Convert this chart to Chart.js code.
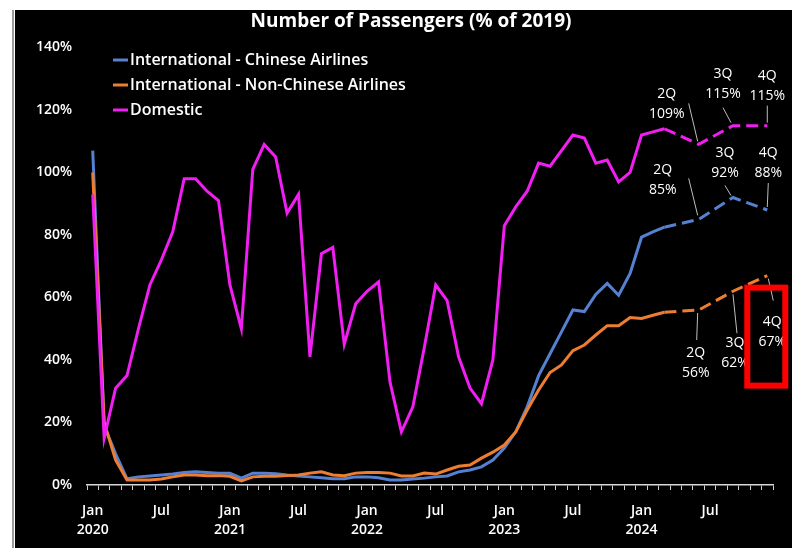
<!DOCTYPE html>
<html>
<head>
<meta charset="utf-8">
<script src="https://cdn.jsdelivr.net/npm/chart.js@4.4.1/dist/chart.umd.min.js"></script>
<style>
  html, body { margin: 0; padding: 0; background: #fff; }
  #wrap { width: 792px; height: 548px; position: relative; }
</style>
</head>
<body>
<div id="wrap"><canvas id="chart" width="792" height="548"></canvas></div>
<script>
// monthly categories, Jan 2020 .. Dec 2024
const months = [
  '2020-01','2020-02','2020-03','2020-04','2020-05','2020-06','2020-07','2020-08','2020-09','2020-10','2020-11','2020-12',
  '2021-01','2021-02','2021-03','2021-04','2021-05','2021-06','2021-07','2021-08','2021-09','2021-10','2021-11','2021-12',
  '2022-01','2022-02','2022-03','2022-04','2022-05','2022-06','2022-07','2022-08','2022-09','2022-10','2022-11','2022-12',
  '2023-01','2023-02','2023-03','2023-04','2023-05','2023-06','2023-07','2023-08','2023-09','2023-10','2023-11','2023-12',
  '2024-01','2024-02','2024-03','2024-04','2024-05','2024-06','2024-07','2024-08','2024-09','2024-10','2024-11','2024-12'
];

// % of 2019 levels (null = no monthly value, quarter-end estimates only)
const chinese = [
  107, 19, 10, 2, 2.6, 2.9, 3.2, 3.5, 4, 4.2, 4, 3.8,
  3.8, 2.2, 3.8, 3.8, 3.6, 3.2, 2.9, 2.6, 2.3, 2, 2, 2.6,
  2.6, 2.3, 1.6, 1.6, 1.9, 2.2, 2.6, 2.9, 4.2, 4.8, 5.8, 8,
  11.8, 17, 25, 35, 42, 49, 56, 55.5, 61, 64.5, 60.7, 67.7,
  79.3, 81, 82.5, null, null, 85, null, null, 92, null, null, 88
];
const nonChinese = [
  100, 20, 8, 1.6, 1.6, 1.6, 1.9, 2.6, 3.2, 3.2, 3, 3,
  2.8, 1.3, 2.6, 2.8, 2.8, 3, 3.2, 3.8, 4.2, 3.2, 3, 3.8,
  4, 4, 3.8, 2.9, 2.9, 3.8, 3.5, 4.8, 6, 6.4, 8.6, 10.5,
  12.8, 17, 24, 30.4, 36, 38.4, 43, 44.8, 48, 51, 51, 53.6,
  53.3, 54.3, 55.3, null, null, 56, null, null, 62, null, null, 67
];
const domestic = [
  93, 15, 31, 35, 50, 64, 72, 81, 98, 98, 94, 91,
  64, 50, 101, 109, 105, 87, 93, 41, 74, 76, 45, 58,
  62, 65, 33, 17, 25, 44, 64, 59, 41, 31, 26, 40,
  83, 89, 94, 103, 102, 107, 112, 111, 103, 104, 97, 100,
  112, 113, 114, null, null, 109, null, null, 115, null, null, 115
];

const seriesNames = ['International - Chinese Airlines', 'International - Non-Chinese Airlines', 'Domestic'];
const seriesColors = ['#5681D0', '#ED7D31', '#F01EF0'];
const chartTitle = 'Number of Passengers (% of 2019)';
const lastActual = 50;            // Mar 2024, dashed afterwards
const quarterTags = ['2Q', '3Q', '4Q'];
const quarterIdx = [53, 56, 59];
const yMin = 0, yMax = 140, yStep = 20;

const FONT = "'Open Sans', 'DejaVu Sans', sans-serif";

// label placement relative to the point: text centre + leader line
const annotLayout = [
  [{ tx: -36, ty: -39, l: [-10, -41, -1, -4] }, { tx: -8, ty: -34, l: [-8, -12, -2, -2] }, { tx: 1, ty: -47, l: [1, -27, 0, -3] }],
  [{ tx: -3, ty: 53, l: [-1, 3, -2, 30] }, { tx: 2, ty: 62, l: [0, 3, 4, 42] }, { tx: 5, ty: 56, l: [1, 3, 6, 25] }],
  [{ tx: -32, ty: -40, l: [-10, -41, -1, -3] }, { tx: -10, ty: -42, l: [-10, -18, -2, -3] }, { tx: 0, ty: -40, l: [0, -20, 0, -3] }]
];

const bgPlugin = {
  id: 'bg',
  beforeDraw(chart) {
    const c = chart.ctx;
    c.save();
    c.fillStyle = '#fff';
    c.fillRect(0, 0, chart.width, chart.height);
    c.fillStyle = '#000';
    c.fillRect(15, 10, chart.width - 15, chart.height - 10);
    c.strokeStyle = '#9a9a9a';
    c.lineWidth = 2;
    c.beginPath();
    c.moveTo(13, 10);
    c.lineTo(13, chart.height);
    c.stroke();
    c.restore();
  }
};

const overlayPlugin = {
  id: 'overlay',
  afterDraw(chart) {
    const c = chart.ctx;
    c.save();

    // title
    c.font = `bold 19px ${FONT}`;
    c.fillStyle = '#fff';
    c.textAlign = 'center';
    c.textBaseline = 'middle';
    c.fillText(chartTitle, 411, 22);

    // legend inside the plot, top left
    c.font = `600 16px ${FONT}`;
    c.textAlign = 'left';
    seriesNames.forEach((name, i) => {
      const y = 60 + i * 25;
      c.strokeStyle = seriesColors[i];
      c.lineWidth = 3;
      c.beginPath();
      c.moveTo(113, y);
      c.lineTo(128, y);
      c.stroke();
      c.fillStyle = '#fff';
      c.fillText(name, 130, y);
    });

    // quarter labels with leader lines
    c.font = `14px ${FONT}`;
    c.textAlign = 'center';
    annotLayout.forEach((row, ds) => {
      const meta = chart.getDatasetMeta(ds);
      row.forEach((a, q) => {
        const idx = quarterIdx[q];
        const pt = meta.data[idx];
        const val = chart.data.datasets[ds].data[idx];
        c.strokeStyle = '#bdbdbd';
        c.lineWidth = 1;
        c.beginPath();
        c.moveTo(pt.x + a.l[0], pt.y + a.l[1]);
        c.lineTo(pt.x + a.l[2], pt.y + a.l[3]);
        c.stroke();
        c.fillStyle = '#fff';
        c.fillText(quarterTags[q], pt.x + a.tx, pt.y + a.ty - 10);
        c.fillText(val + '%', pt.x + a.tx, pt.y + a.ty + 10);
      });
    });

    // red highlight box around the 4Q non-Chinese value
    const p = chart.getDatasetMeta(1).data[quarterIdx[2]];
    c.strokeStyle = '#ff0000';
    c.lineWidth = 6;
    c.strokeRect(p.x - 20, p.y + 12, 38, 98);
    c.restore();
  }
};

const dashAfter = ctx => ctx.p0DataIndex >= lastActual ? [12, 6] : undefined;

new Chart(document.getElementById('chart'), {
  type: 'line',
  data: {
    labels: months,
    datasets: [
      { label: seriesNames[0], data: chinese, borderColor: seriesColors[0], order: 2 },
      { label: seriesNames[1], data: nonChinese, borderColor: seriesColors[1], order: 1 },
      { label: seriesNames[2], data: domestic, borderColor: seriesColors[2], order: 0 }
    ].map(d => ({ ...d, borderWidth: 3, pointRadius: 0, tension: 0, spanGaps: true, fill: false, segment: { borderDash: dashAfter } }))
  },
  options: {
    responsive: false,
    animation: false,
    layout: { padding: { left: 15, right: 19, top: 47.5, bottom: 0 } },
    plugins: {
      legend: { display: false },
      tooltip: { enabled: false },
      title: { display: false }
    },
    scales: {
      x: {
        offset: true,
        grid: { display: true, drawOnChartArea: false, offset: true, color: '#cfcfcf', tickLength: 5 },
        border: { display: true, color: '#d8d8d8', width: 1.5 },
        ticks: {
          autoSkip: false, maxRotation: 0, color: '#fff', padding: 11,
          font: { family: FONT, size: 14, weight: '600', lineHeight: 1.4 },
          callback: (v, i) => {
            const [yr, m] = months[i].split('-');
            if (m === '01') return ['Jan', yr];
            if (m === '07') return 'Jul';
            return '';
          }
        },
        afterFit: s => { s.height = 63; }
      },
      y: {
        min: yMin, max: yMax,
        grid: { display: false, drawTicks: false },
        border: { display: false },
        ticks: {
          stepSize: yStep, color: '#fff', padding: 15,
          font: { family: FONT, size: 14, weight: '600' },
          callback: v => v + '%'
        },
        afterFit: s => { s.width = 72; }
      }
    }
  },
  plugins: [bgPlugin, overlayPlugin]
});
</script>
</body>
</html>
